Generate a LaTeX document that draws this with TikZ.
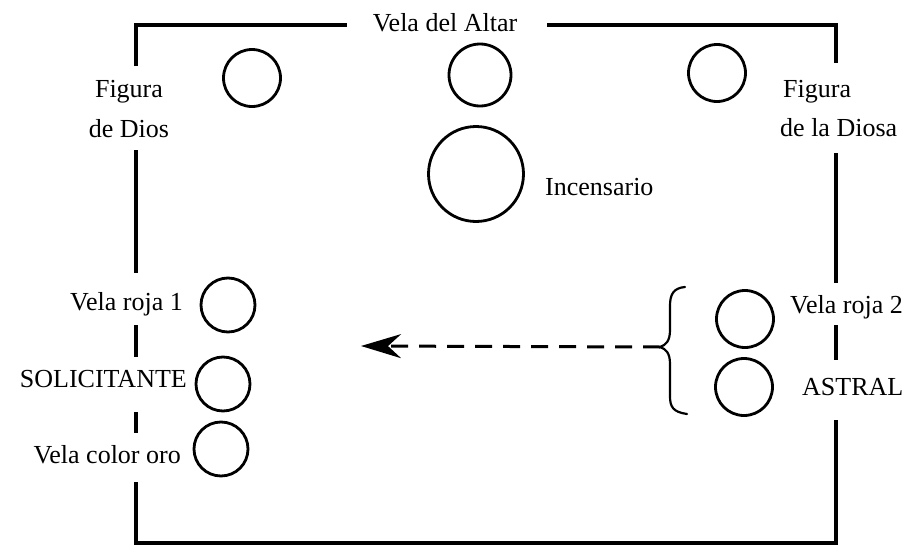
\documentclass[tikz,border=0pt]{standalone}
\usepackage{fontspec}
\setmainfont{Liberation Serif}
\usetikzlibrary{arrows.meta}
\begin{document}
\begin{tikzpicture}[x=1pt,y=-1pt,
  lbl/.style={inner sep=0pt, font=\fontsize{26}{30}\selectfont},
  cand/.style={circle, draw, line width=2.8pt, inner sep=0pt},
  wall/.style={line width=3.4pt, line join=miter},
  flow/.style={line width=3pt, dash pattern=on 17pt off 11pt, -{Stealth[length=40pt,width=24pt,inset=13pt]}},
  brace/.style={line width=2.2pt, line cap=round}
]
\useasboundingbox (0,0) rectangle (911,546);
% frame
\draw[wall] (136,66) -- (136,25) -- (347,25);
\draw[wall] (547,25) -- (836,25) -- (836,63);
\draw[wall] (136,150) -- (136,273);
\draw[wall] (136,325) -- (136,357);
\draw[wall] (136,412) -- (136,433);
\draw[wall] (136,482) -- (136,543) -- (836,543) -- (836,420);
\draw[wall] (836,153) -- (836,283);
\draw[wall] (836,325) -- (836,360);
% labels
\node[lbl, anchor=base] (altar) at (445,31) {Vela del Altar};
\node[lbl, anchor=base] (fd1) at (129,97) {Figura};
\node[lbl, anchor=base] (fd2) at (129,137) {de Dios};
\node[lbl, anchor=base west] (fg1) at (783,97) {Figura};
\node[lbl, anchor=base west] (fg2) at (780,136) {de la Diosa};
\node[lbl, anchor=base west] (inctext) at (545,195) {Incensario};
\node[lbl, anchor=base east] (r1text) at (183,310) {Vela roja 1};
\node[lbl, anchor=base east] (soltext) at (187,387) {SOLICITANTE};
\node[lbl, anchor=base east] (orotext) at (181,463) {Vela color oro};
\node[lbl, anchor=base west] (r2text) at (790,313) {Vela roja 2};
\node[lbl, anchor=base west] (asttext) at (802,395) {ASTRAL};
% candles
\node[cand, minimum size=57pt] (c1) at (252,78) {};
\node[cand, minimum size=62pt] (c2) at (480,75) {};
\node[cand, minimum size=57pt] (c3) at (717,73) {};
\node[cand, minimum size=95pt] (inc) at (476,174) {};
\node[cand, minimum size=54pt] (r1) at (228,305) {};
\node[cand, minimum size=54pt] (sol) at (223,384) {};
\node[cand, minimum size=54pt] (oro) at (221,449) {};
\node[cand, minimum size=57pt] (r2) at (745,319) {};
\node[cand, minimum size=57pt] (ast) at (744,387) {};
% brace
\coordinate (btip) at (660,347);
\coordinate (atip) at (361,346);
\draw[brace] (685,287) .. controls (673,288) and (670,295) .. (670,306)
  -- (670,330) .. controls (670,341) and (666,345) .. (btip)
  .. controls (666,349) and (670,353) .. (670,364)
  -- (670,396) .. controls (670,407) and (673,412) .. (687,414);
% arrow
\draw[flow] (btip) -- (atip);
\end{tikzpicture}
\end{document}
